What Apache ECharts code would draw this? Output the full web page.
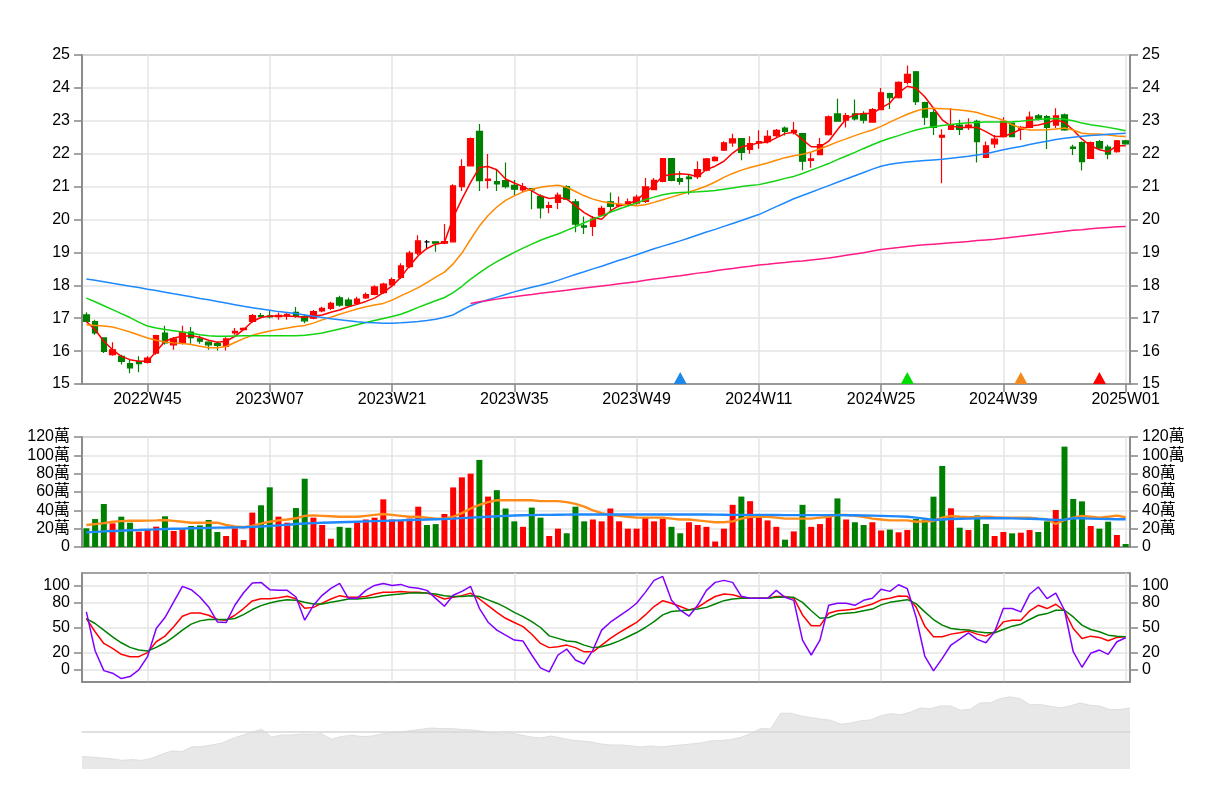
<!DOCTYPE html>
<html><head><meta charset="utf-8">
<script src="https://cdn.jsdelivr.net/npm/echarts@6.0.0/dist/echarts.min.js"></script>
<style>html,body{margin:0;padding:0;background:#fff}#chart{width:1212px;height:810px}</style>
</head><body><div id="chart"></div>
<script>
// ---------------- data ----------------
const categories = [
'2022W38','2022W39','2022W40','2022W41','2022W42','2022W43','2022W44','2022W45','2022W46','2022W47','2022W48','2022W49','2022W50','2022W51','2022W52',
'2023W01','2023W02','2023W03','2023W04','2023W05','2023W06','2023W07','2023W08','2023W09','2023W10','2023W11','2023W12','2023W13','2023W14','2023W15','2023W16','2023W17','2023W18','2023W19','2023W20','2023W21','2023W22','2023W23','2023W24','2023W25','2023W26','2023W27','2023W28','2023W29','2023W30','2023W31','2023W32','2023W33','2023W34','2023W35','2023W36','2023W37','2023W38','2023W39','2023W40','2023W41','2023W42','2023W43','2023W44','2023W45','2023W46','2023W47','2023W48','2023W49','2023W50','2023W51','2023W52',
'2024W01','2024W02','2024W03','2024W04','2024W05','2024W06','2024W07','2024W08','2024W09','2024W10','2024W11','2024W12','2024W13','2024W14','2024W15','2024W16','2024W17','2024W18','2024W19','2024W20','2024W21','2024W22','2024W23','2024W24','2024W25','2024W26','2024W27','2024W28','2024W29','2024W30','2024W31','2024W32','2024W33','2024W34','2024W35','2024W36','2024W37','2024W38','2024W39','2024W40','2024W41','2024W42','2024W43','2024W44','2024W45','2024W46','2024W47','2024W48','2024W49','2024W50','2024W51','2024W52',
'2025W01'];

// [open, close, low, high]
const ohlc = [
[17.10,16.90,16.87,17.18],[16.90,16.55,16.50,16.95],[16.40,15.99,15.94,16.42],[15.89,16.04,15.86,16.27],[15.84,15.69,15.59,15.89],
[15.62,15.49,15.33,15.76],[15.69,15.62,15.36,15.84],[15.66,15.79,15.62,15.84],[15.94,16.47,15.89,16.50],[16.55,16.25,16.20,16.77],
[16.19,16.37,16.04,16.42],[16.25,16.57,16.20,16.77],[16.58,16.41,16.22,16.73],[16.37,16.30,16.22,16.47],[16.27,16.19,16.04,16.30],
[16.23,16.17,16.02,16.30],[16.14,16.37,16.02,16.42],[16.55,16.60,16.50,16.70],[16.65,16.69,16.63,16.72],[16.90,17.08,16.87,17.13],
[17.08,17.05,17.00,17.16],[17.07,17.04,16.99,17.23],[17.05,17.09,16.95,17.17],[17.08,17.12,16.95,17.17],[17.18,17.06,17.01,17.34],
[17.05,16.92,16.85,17.12],[17.00,17.20,16.97,17.25],[17.22,17.30,17.18,17.35],[17.30,17.45,17.25,17.50],[17.62,17.40,17.35,17.68],
[17.55,17.38,17.33,17.62],[17.45,17.58,17.40,17.65],[17.62,17.72,17.58,17.78],[17.72,17.95,17.70,18.00],[17.78,18.04,17.74,18.08],
[18.01,18.17,17.94,18.24],[18.24,18.59,18.19,18.67],[18.57,18.98,18.52,19.05],[18.98,19.35,18.92,19.52],[19.32,19.32,19.12,19.38],
[19.32,19.28,19.02,19.33],[19.28,19.33,19.25,19.86],[19.32,21.02,19.30,21.07],[21.00,21.61,20.87,21.83],[21.63,22.46,21.61,22.49],
[22.68,21.18,20.87,22.90],[21.19,21.23,20.94,21.99],[21.15,21.08,20.87,21.51],[21.18,21.00,20.94,21.73],[21.04,20.92,20.74,21.20],
[20.90,20.99,20.82,21.11],[20.94,20.90,20.31,20.96],[20.70,20.35,20.03,20.77],[20.37,20.42,20.19,20.54],[20.52,20.74,20.32,20.82],
[21.00,20.62,20.60,21.04],[20.54,19.86,19.61,20.62],[19.81,19.77,19.56,20.09],[19.79,20.01,19.50,20.11],[20.13,20.34,20.11,20.42],
[20.54,20.40,20.26,20.82],[20.42,20.46,20.37,20.70],[20.46,20.54,20.42,20.64],[20.50,20.68,20.45,20.75],[20.55,20.99,20.50,21.26],
[20.91,21.19,20.89,21.26],[21.16,21.85,21.13,21.87],[21.85,21.19,21.16,21.87],[21.24,21.16,21.06,21.47],[21.29,21.24,20.76,21.37],
[21.30,21.52,21.23,21.77],[21.50,21.84,21.47,21.87],[21.79,21.89,21.76,21.92],[22.11,22.33,22.08,22.38],[22.33,22.45,22.21,22.61],
[22.46,22.04,21.80,22.48],[22.13,22.31,22.00,22.53],[22.33,22.37,22.15,22.71],[22.37,22.53,22.31,22.71],[22.55,22.71,22.51,22.75],
[22.78,22.68,22.55,22.83],[22.65,22.71,22.58,22.96],[22.61,21.77,21.50,22.63],[21.80,21.84,21.57,22.02],[21.97,22.28,21.95,22.48],
[22.58,23.12,22.55,23.16],[23.21,22.99,22.99,23.67],[23.02,23.16,22.80,23.24],[23.21,23.06,23.01,23.65],[23.19,23.02,22.92,23.29],
[22.96,23.34,22.94,23.39],[23.34,23.85,23.32,24.00],[23.83,23.70,23.36,23.85],[23.70,24.17,23.68,24.20],[24.17,24.41,24.10,24.68],
[24.49,23.58,23.48,24.51],[23.55,23.11,22.87,23.58],[23.25,22.80,22.57,23.38],[22.50,22.56,21.10,22.74],[22.74,22.87,22.72,23.38],
[22.87,22.74,22.57,23.03],[22.82,22.87,22.72,23.08],[22.98,22.37,21.73,23.03],[21.89,22.24,21.86,22.37],[22.30,22.44,22.17,22.57],
[22.52,22.98,22.50,23.11],[22.93,22.52,22.50,22.95],[22.74,22.80,22.42,22.84],[22.80,23.11,22.77,23.28],[23.15,23.08,23.01,23.21],
[23.13,22.80,22.14,23.18],[22.87,23.15,22.77,23.38],[23.18,22.72,22.70,23.22],[22.20,22.16,21.96,22.27],[22.34,21.76,21.49,22.37],
[21.86,22.34,21.84,22.37],[22.37,22.17,22.14,22.42],[22.20,21.99,21.83,22.27],[22.06,22.39,22.03,22.42],[22.39,22.30,22.27,22.42]
];

const ma5 = [16.90,16.65,16.30,16.04,15.84,15.74,15.69,15.69,15.99,16.30,16.40,16.45,16.47,16.42,16.33,16.27,16.30,16.45,16.65,16.90,
17.02,17.07,17.07,17.07,17.05,17.03,17.06,17.10,17.18,17.25,17.35,17.42,17.51,17.61,17.78,17.98,18.24,18.59,18.90,19.12,
19.25,19.30,20.06,20.62,21.13,21.58,21.61,21.51,21.23,21.11,21.00,20.87,20.72,20.64,20.67,20.62,20.42,20.21,20.06,20.01,
20.26,20.42,20.47,20.58,20.82,21.04,21.32,21.37,21.39,21.37,21.30,21.52,21.62,21.77,22.02,22.21,22.26,22.33,22.35,22.48,
22.61,22.65,22.43,22.21,22.21,22.38,22.73,23.06,23.19,23.22,23.22,23.39,23.54,23.85,24.05,23.99,23.73,23.38,23.03,22.84,
22.80,22.80,22.80,22.67,22.52,22.52,22.62,22.74,22.84,22.87,22.93,23.03,22.95,22.72,22.44,22.24,22.12,22.06,22.24,22.24];
const ma10 = [16.80,16.78,16.76,16.73,16.66,16.58,16.49,16.40,16.33,16.28,16.25,16.23,16.20,16.15,16.10,16.10,16.14,16.26,16.38,16.48,
16.55,16.61,16.66,16.70,16.75,16.78,16.85,16.95,17.03,17.12,17.20,17.28,17.35,17.40,17.45,17.55,17.68,17.80,17.93,18.08,
18.25,18.40,18.65,18.98,19.40,19.80,20.12,20.38,20.58,20.72,20.84,20.92,20.98,21.02,21.04,20.98,20.85,20.72,20.62,20.55,
20.50,20.47,20.44,20.42,20.45,20.52,20.60,20.68,20.76,20.84,20.92,21.02,21.14,21.28,21.40,21.50,21.58,21.65,21.72,21.80,
21.88,21.94,21.98,22.05,22.15,22.25,22.36,22.45,22.55,22.64,22.72,22.83,22.96,23.08,23.20,23.30,23.37,23.38,23.37,23.35,
23.33,23.30,23.25,23.17,23.10,23.02,22.88,22.78,22.72,22.72,22.73,22.75,22.78,22.72,22.62,22.60,22.60,22.57,22.54,22.52];
const ma20 = [17.61,17.50,17.38,17.26,17.14,17.02,16.88,16.76,16.70,16.66,16.62,16.58,16.54,16.50,16.47,16.45,16.45,16.46,16.47,16.47,
16.47,16.47,16.47,16.47,16.47,16.48,16.51,16.55,16.61,16.67,16.73,16.80,16.87,16.93,16.99,17.05,17.12,17.22,17.33,17.43,
17.53,17.63,17.78,17.97,18.19,18.38,18.56,18.72,18.86,19.00,19.13,19.25,19.37,19.47,19.56,19.67,19.78,19.90,20.01,20.11,
20.22,20.32,20.41,20.50,20.60,20.68,20.75,20.80,20.82,20.83,20.84,20.86,20.88,20.92,20.96,21.00,21.03,21.06,21.12,21.18,
21.25,21.31,21.40,21.50,21.60,21.70,21.82,21.93,22.04,22.16,22.27,22.38,22.47,22.55,22.64,22.72,22.78,22.82,22.86,22.89,
22.92,22.94,22.95,22.96,22.96,22.96,22.97,22.99,23.02,23.04,23.06,23.07,23.05,23.00,22.93,22.88,22.84,22.80,22.75,22.70];
const ma60 = [18.19,18.15,18.11,18.06,18.02,17.97,17.93,17.88,17.84,17.79,17.74,17.70,17.65,17.60,17.56,17.51,17.46,17.41,17.36,17.32,
17.28,17.24,17.20,17.17,17.14,17.10,17.06,17.02,16.98,16.95,16.92,16.89,16.87,16.86,16.85,16.85,16.86,16.88,16.90,16.93,
16.97,17.03,17.10,17.25,17.38,17.48,17.56,17.64,17.72,17.80,17.87,17.94,18.00,18.07,18.15,18.24,18.33,18.41,18.50,18.58,
18.67,18.76,18.84,18.93,19.02,19.11,19.19,19.27,19.35,19.44,19.53,19.62,19.70,19.79,19.88,19.97,20.06,20.15,20.27,20.39,
20.51,20.63,20.73,20.83,20.93,21.03,21.13,21.23,21.33,21.43,21.53,21.62,21.68,21.72,21.75,21.77,21.79,21.81,21.83,21.86,
21.89,21.92,21.96,22.00,22.06,22.12,22.17,22.22,22.28,22.33,22.38,22.43,22.47,22.50,22.53,22.55,22.57,22.59,22.61,22.62];
const ma240 = [null,null,null,null,null,null,null,null,null,null,null,null,null,null,null,null,null,null,null,null,
null,null,null,null,null,null,null,null,null,null,null,null,null,null,null,null,null,null,null,null,
null,null,null,null,17.45,17.50,17.54,17.58,17.62,17.65,17.69,17.72,17.76,17.79,17.82,17.85,17.89,17.92,17.95,17.98,
18.01,18.05,18.08,18.11,18.15,18.19,18.22,18.26,18.29,18.33,18.37,18.40,18.44,18.48,18.51,18.55,18.58,18.62,18.64,18.67,
18.69,18.72,18.74,18.77,18.80,18.83,18.87,18.91,18.95,18.99,19.04,19.09,19.12,19.15,19.18,19.21,19.23,19.25,19.27,19.29,
19.31,19.33,19.36,19.38,19.40,19.43,19.46,19.49,19.52,19.55,19.58,19.61,19.64,19.67,19.69,19.72,19.74,19.76,19.78,19.79];

// weekly volume, unit: 萬
const volume = [20.4,30.5,46.9,25.8,33.1,26.5,16.7,19.6,22.2,33.5,17.5,19.3,22.9,23.6,29.5,16.4,12.0,20.4,7.6,37.5,
45.5,65.1,33.1,26.5,42.5,74.5,32,24,9,22,21,27,30,32,52,30,29,31,44,24,
25,36,65,76,80,95,55,62,42,28,22,43,32,12,20,15,44,28,30,28,
42,28,20,20,32,28,31,22,15,27,24,22,6,20,46,55,50,33,29,22,
8,17,46,22,25,35,53,30,27,24,27,18,19,16,18.5,30.5,30,54.9,88.4,42.2,
21.1,18.5,34.5,25.1,12.0,16.4,14.9,15.6,18.5,16.4,28,40.4,109.5,52.4,49.8,22.9,20,27.6,13.1,3.3];
const volMaShort = [24,25,26,27.6,28.2,28.6,28.7,28.8,29,29.5,28.5,27.5,26.5,26.5,26.5,26.5,24,22.5,21.5,23,
25.5,27.6,29,30,31.3,34,34.5,34,33.5,33,33,33,34,35,36,35,34,33,33,32,
31,31,33,37,42,46,49,51,51,51,51,51,50,50,50,49,47,44,40,37,
35,34,33,32,32,32,32,31,30,30,29,28,27,27,28,31,33,33,33,32,
31,31,31,31,32,33,35,35,34,33,31,30,29,29,29,27.6,28,28.4,32,33.8,
33,32.4,32.5,33.1,32.5,32,32,32,32,31,30.2,25.1,29.5,32,33.8,33,32,33,34.2,32.4];
const volMaLong = [16,16.5,17,17.5,17.8,18.2,18.5,18.9,19.2,19.6,19.9,20.1,20.4,20.6,20.9,21.1,21.2,21.4,21.5,22,
22.4,22.9,23.6,24.3,25.1,25.6,26,26.4,26.7,27,27.3,27.6,27.9,28.2,28.5,28.8,29.1,29.4,29.7,30,
30.3,30.6,31,31.5,32,32.5,33,33.5,34,34.3,34.6,34.8,35,35.1,35.2,35.3,35.4,35.4,35.4,35.4,
35.4,35.4,35.4,35.4,35.4,35.4,35.4,35.5,35.5,35.5,35.5,35.4,35.3,35.2,35.1,35,35,35,35,34.9,
34.8,34.8,34.8,34.8,34.8,34.8,34.8,34.7,34.6,34.4,34.2,34,33.7,33.4,33,32,31,29.5,30,30.5,
30.8,31,31.2,31.3,31.3,31.3,31.2,31,30.8,30.5,30,29.5,29.8,31.3,31.3,31,30.7,30.5,30.3,30.2];

const kdjK = [60.7,44.9,31,25.1,18,15.2,15.2,20,33,39.7,50.8,63.4,67.4,67.4,64.6,59.5,58.7,64.6,72.6,81.7,
84.4,84.4,85.6,87.2,84.4,72.9,74,79,84,88,86,86,87,90,92,92,93,92,92,91,
88,84,86,88,91,84,76,68,61,56,51,42,31,26,27,29,26,21,21,29,
37,44,50,56,65,75,82,79,75,71,74,81,87,90,89,86,85,85,85,87,
87,85,65,52,52,67,70,71,72,75,78,83,85,87.6,87.2,74.5,51.6,38.9,38.9,42.1,
43.7,45.7,42.1,39.7,44.9,56.7,58.7,58.7,69.8,76.5,72.6,77.7,69.8,48.8,37,39.7,38.2,34.2,38.2,38.9];
const kdjD = [60.7,54.8,46.9,38.9,31.8,26.3,23.1,21.9,26.3,31.8,38.9,46.9,54,57.9,59.5,59.5,59.5,60.7,65.4,71.4,
76.1,79.3,81.7,83.2,82.4,80,78,78,80,82,84,84,85,86,88,89,90,91,91,91,
90,88,87,87,88,87,83,79,74,68,63,57,50,40,37,34,33,29,26,27,
30,34,39,44,50,57,65,69,70,71,72,74,78,82,84,85,85,85,85,86,
86,86,80,70,61,62,66,67,68,70,72,77,80,81.7,83.2,78.5,68.6,59.5,52.8,48.8,
47.6,46.9,44.9,43.7,43.7,47.6,51.6,54,59.5,64.6,66.6,70.6,70.6,62.6,52.8,47.6,44.9,40.9,39.7,38.9];
const kdjJ = [68.6,22.3,-1.4,-4.5,-10.9,-8.5,-0.6,15.2,48.8,61.9,80.5,99.1,95.1,86.4,74.5,56.7,55.9,76.5,91.5,103,
103.8,95.1,94.3,94.3,86.4,58.7,76.5,88.4,96.7,102.6,84.8,84.8,94.3,100.2,102.6,100.2,101.4,97.9,96.7,94.3,
84.8,75.3,88.4,93.1,99,72.9,56.3,46.9,40.9,35,33.8,17.2,1.8,-3,17.2,24.3,11.3,6.5,23.1,46.9,
56.3,63.5,70.6,78.9,91.9,106.2,110.9,82.4,70.6,63.5,76.5,94.3,103.8,106.2,103.8,87.2,84.8,84.8,84.8,94.3,
86,82.4,35,17.2,35,76.5,78.9,78.9,76.5,82.4,84.8,95.5,93.1,101,96.3,62.6,16,-1.8,13.2,29.1,
36.2,43.7,35.8,31.8,44.9,72.6,72.6,68.6,89.6,98.3,84.4,91.1,70.6,21.1,2.6,19.2,23.1,18,33,37.8];

// signal markers on the price chart: [category index, kind]
const signals = [[68,'blue'],[94,'green'],[107,'orange'],[116,'red']];

// overview (long history) price shadow, sampled evenly across the overview strip
const overviewPrice = [15.00,14.91,14.77,14.65,14.42,14.53,14.41,14.73,15.35,15.86,15.76,16.47,16.52,16.77,17.05,17.71,18.23,18.70,19.15,17.98,
18.29,18.29,18.44,18.41,18.48,17.65,18.06,18.26,18.05,18.12,18.44,18.67,18.77,18.97,19.18,19.35,19.27,19.27,19.15,19.05,
18.89,18.59,18.44,18.59,18.29,17.98,17.83,18.14,17.83,17.53,17.38,17.23,16.92,16.77,16.77,16.62,16.47,16.62,16.47,16.62,
16.77,16.92,17.08,17.38,17.45,17.58,17.92,18.52,19.29,19.20,21.62,21.62,21.21,20.97,20.71,20.56,19.95,20.11,20.45,20.59,
21.21,21.55,21.38,21.77,22.41,22.30,22.73,22.73,22.08,22.23,23.21,23.21,23.85,24.12,23.82,22.91,22.94,22.68,22.42,22.73,
23.18,22.83,22.68,22.15,22.18,22.42];

const yTicksPrice = {min: 15, max: 25, step: 1};
const yTicksVolume = {min: 0, max: 120, step: 20};
const kdjTickValues = [0, 20, 50, 80, 100];

// ---------------- styling / layout ----------------
const FONT = "'Liberation Sans', Arial, 'Noto Sans CJK TC', sans-serif";
const UP = '#ff0000', DOWN = '#008000';
const AXIS = '#858585', SPLIT = '#e4e4e4';
const LAST = categories.length - 1;
const onLabel = (i) => (LAST - i) % 14 === 0;
const signalColor = {blue: '#1e88e8', green: '#00dd00', orange: '#f08a1e', red: '#ff0000'};

function xAxis(gridIndex, showLabel) {
  return {
    type: 'category', gridIndex, data: categories, boundaryGap: true,
    axisLine: {show: true, onZero: false, lineStyle: {color: AXIS, width: 1.5}},
    axisTick: {show: showLabel, interval: onLabel, alignWithLabel: true, length: 8, lineStyle: {color: AXIS, width: 1.5}},
    axisLabel: {show: showLabel, interval: onLabel, fontSize: 16, color: '#000', fontFamily: FONT, margin: 8},
    splitLine: {show: true, interval: onLabel, alignWithLabel: true, lineStyle: {color: SPLIT, width: 1.5}}
  };
}
function yAxis(gridIndex, position, extra) {
  return Object.assign({
    type: 'value', gridIndex, position, scale: false,
    axisLine: {show: true, lineStyle: {color: AXIS, width: 1.5}},
    axisTick: {show: true, length: 8, lineStyle: {color: AXIS, width: 1.5}},
    axisLabel: {fontSize: 16, color: '#000', fontFamily: FONT, margin: 12},
    splitLine: {show: position === 'left', lineStyle: {color: SPLIT, width: 1.5}}
  }, extra);
}
const volFmt = (v) => v === 0 ? '0' : v + '萬';

const volumeData = volume.map((v, i) => {
  const c = ohlc[i][1];
  const ref = i === 0 ? ohlc[i][0] : ohlc[i - 1][1];
  return {value: v, itemStyle: {color: c >= ref ? UP : DOWN}};
});

function line(name, data, color, xi, yi, width) {
  return {name, type: 'line', data, xAxisIndex: xi, yAxisIndex: yi, symbol: 'none', showSymbol: false,
    lineStyle: {color, width: width || 1.5}, itemStyle: {color}, z: 3, silent: true, connectNulls: false};
}

const chart = echarts.init(document.getElementById('chart'), null, {renderer: 'canvas'});
const gridStyle = {show: true, borderColor: AXIS, borderWidth: 1.5, backgroundColor: 'transparent'};
chart.setOption({
  animation: false,
  backgroundColor: '#fff',
  grid: [
    Object.assign({left: 82, right: 82, top: 55, height: 329}, gridStyle),
    Object.assign({left: 82, right: 82, top: 437, height: 110}, gridStyle),
    Object.assign({left: 82, right: 82, top: 573, height: 109}, gridStyle),
    {left: 82, right: 82, top: 732, height: 37, show: false}
  ],
  xAxis: [
    xAxis(0, true), xAxis(1, false), xAxis(2, false),
    {type: 'category', gridIndex: 3, position: 'top', boundaryGap: false, z: 5,
     data: overviewPrice.map((_, i) => i),
     axisLine: {show: true, onZero: false, lineStyle: {color: '#d6d6d6', width: 1.5}},
     axisTick: {show: false}, axisLabel: {show: false}, splitLine: {show: false}}
  ],
  yAxis: [
    yAxis(0, 'left', {min: yTicksPrice.min, max: yTicksPrice.max, interval: yTicksPrice.step}),
    yAxis(0, 'right', {min: yTicksPrice.min, max: yTicksPrice.max, interval: yTicksPrice.step}),
    yAxis(1, 'left', {min: yTicksVolume.min, max: yTicksVolume.max, interval: yTicksVolume.step, axisLabel: {fontSize: 16, color: '#000', fontFamily: FONT, margin: 12, formatter: volFmt}}),
    yAxis(1, 'right', {min: yTicksVolume.min, max: yTicksVolume.max, interval: yTicksVolume.step, axisLabel: {fontSize: 16, color: '#000', fontFamily: FONT, margin: 12, formatter: volFmt}}),
    yAxis(2, 'left', {min: -15, max: 115,
      axisTick: {show: true, length: 8, customValues: kdjTickValues, lineStyle: {color: AXIS, width: 1.5}},
      axisLabel: {fontSize: 16, color: '#000', fontFamily: FONT, margin: 12, customValues: kdjTickValues}}),
    yAxis(2, 'right', {min: -15, max: 115,
      axisTick: {show: true, length: 8, customValues: kdjTickValues, lineStyle: {color: AXIS, width: 1.5}},
      axisLabel: {fontSize: 16, color: '#000', fontFamily: FONT, margin: 12, customValues: kdjTickValues}}),
    {type: 'value', gridIndex: 3, min: 13.1, max: 18.75, show: false}
  ],
  series: [
    {name: 'K', type: 'candlestick', data: ohlc, xAxisIndex: 0, yAxisIndex: 0, barWidth: 6,
     itemStyle: {color: UP, color0: DOWN, borderColor: UP, borderColor0: DOWN, borderColorDoji: '#000', borderWidth: 1.2}},
    line('MA5', ma5, '#ff0000', 0, 0),
    line('MA10', ma10, '#ff8a00', 0, 0),
    line('MA20', ma20, '#11d411', 0, 0),
    line('MA60', ma60, '#1e88ff', 0, 0),
    line('MA240', ma240, '#ff1a85', 0, 0),
    {name: 'signal', type: 'scatter', xAxisIndex: 0, yAxisIndex: 0, symbol: 'triangle', symbolSize: [13, 12], symbolOffset: [0, -6],
     data: signals.map(([i, k]) => ({value: [i, yTicksPrice.min], itemStyle: {color: signalColor[k], opacity: 1}})), z: 4, clip: false},
    {name: 'VOL', type: 'bar', data: volumeData, xAxisIndex: 1, yAxisIndex: 2, barWidth: 6},
    line('VMA-S', volMaShort, '#ff8c1a', 1, 2, 2.4),
    line('VMA-L', volMaLong, '#1e88ff', 1, 2, 2.4),
    line('K值', kdjK, '#ff0000', 2, 4, 1.5),
    line('D值', kdjD, '#008000', 2, 4, 1.5),
    line('J值', kdjJ, '#8000ff', 2, 4, 1.5),
    {name: 'overview', type: 'line', data: overviewPrice, xAxisIndex: 3, yAxisIndex: 6, symbol: 'none', clip: false,
     lineStyle: {color: '#dedede', width: 1}, areaStyle: {color: '#e8e8e8', opacity: 1, origin: 'start'}, z: 1, silent: true}
  ]
});
</script>
</body></html>
